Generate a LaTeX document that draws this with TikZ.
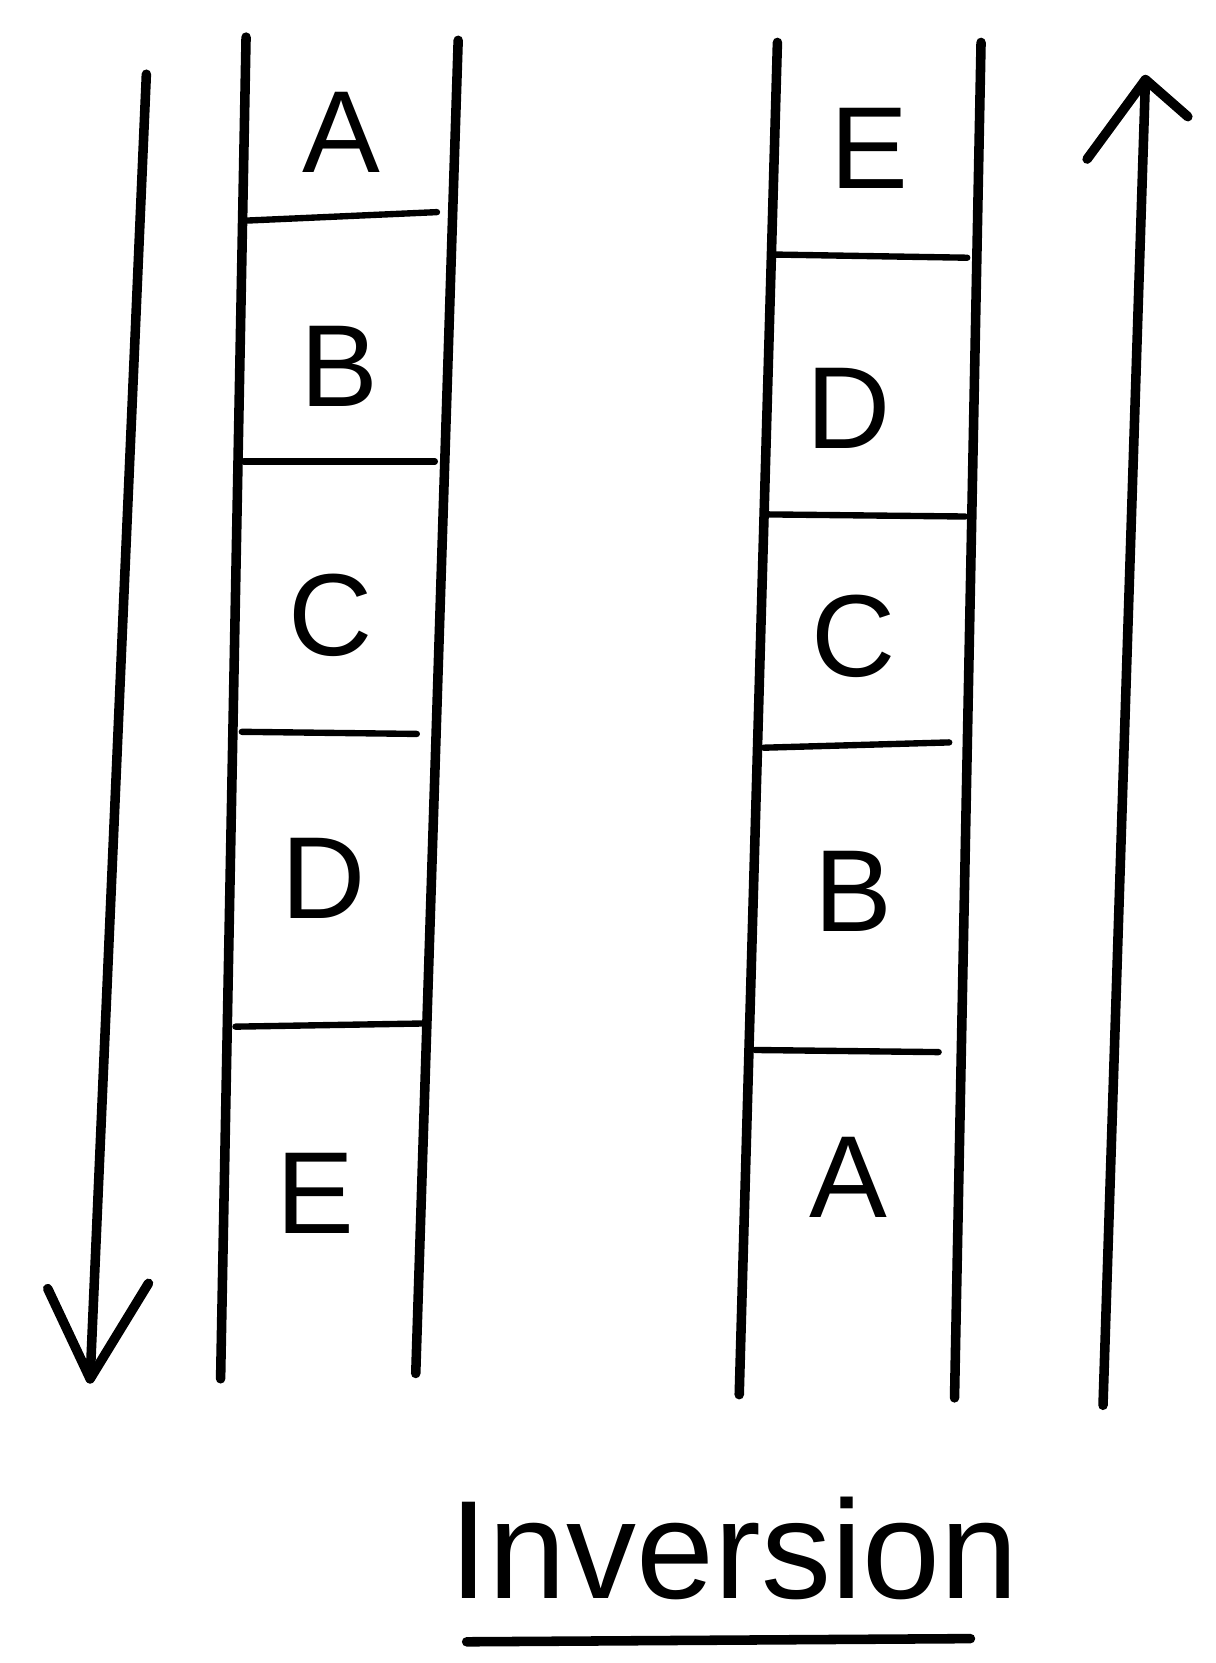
\documentclass[tikz,border=0pt]{standalone}
\usepackage{fontspec}
\setmainfont{Liberation Sans}
\begin{document}
\begin{tikzpicture}[x=1pt,y=-1pt,
  ink/.style={line width=9pt,line cap=round,line join=round,black},
  thin/.style={line width=6pt,line cap=round,black},
  letter/.style={font=\fontsize{110}{110}\selectfont,inner sep=0pt}]
\useasboundingbox (0,0) rectangle (1146,1568);
% left column
\draw[ink] (232,35) -- (208,1300);
\draw[ink] (432,38) -- (392,1295);
\draw[thin] (232,208) -- (412,200);
\draw[thin] (230,435) -- (410,435);
\draw[thin] (228,690) -- (393,692);
\draw[thin] (222,968) -- (400,965);
\node[letter] (la) at (322,125) {A};
\node[letter] (lb) at (320,345) {B};
\node[letter] (lc) at (312,580) {C};
\node[letter] (ld) at (305,828) {D};
\node[letter] (le) at (297,1125) {E};
% left arrow
\coordinate (lt) at (138,70);
\coordinate (lh) at (85,1300);
\draw[ink] (lt) -- (lh);
\draw[ink] (45,1215) -- (lh) -- (140,1210);
% right column
\draw[ink] (733,40) -- (697,1315);
\draw[ink] (925,40) -- (900,1318);
\draw[thin] (730,240) -- (912,243);
\draw[thin] (722,485) -- (910,487);
\draw[thin] (720,705) -- (895,700);
\draw[thin] (712,990) -- (885,992);
\node[letter] (re) at (820,140) {E};
\node[letter] (rd) at (800,385) {D};
\node[letter] (rc) at (805,600) {C};
\node[letter] (rb) at (805,840) {B};
\node[letter] (ra) at (800,1110) {A};
% right arrow
\coordinate (rt) at (1080,75);
\coordinate (rs) at (1040,1325);
\draw[ink] (rs) -- (rt);
\draw[ink] (1025,150) -- (rt) -- (1120,110);
% caption
\node[font=\fontsize{132}{132}\selectfont,inner sep=0pt] (cap) at (692,1460) {Inversion};
\draw[ink] (440,1548) -- (915,1545);
\end{tikzpicture}
\end{document}
